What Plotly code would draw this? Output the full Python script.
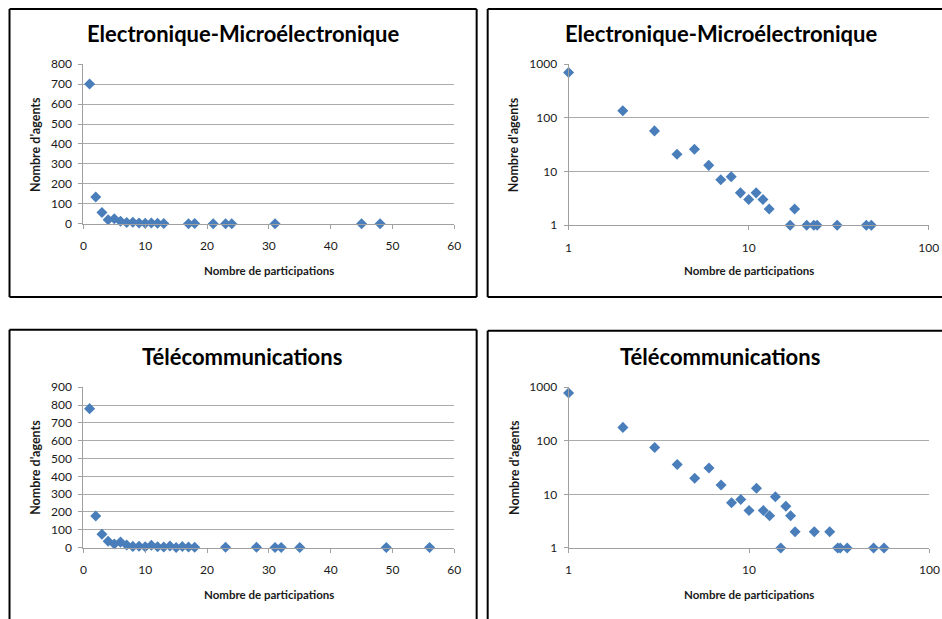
import plotly.graph_objects as go

# ---------------- data ----------------
elec_x = [1, 2, 3, 4, 5, 6, 7, 8, 9, 10, 11, 12, 13, 17, 18, 21, 23, 24, 31, 45, 48]
elec_y = [700, 135, 57, 21, 26, 13, 7, 8, 4, 3, 4, 3, 2, 1, 2, 1, 1, 1, 1, 1, 1]

tele_x = [1, 2, 3, 4, 5, 6, 7, 8, 9, 10, 11, 12, 13, 14, 15, 16, 17, 18, 23, 28, 31, 32, 35, 49, 56]
tele_y = [780, 178, 75, 36, 20, 31, 15, 7, 8, 5, 13, 5, 4, 9, 1, 6, 4, 2, 2, 2, 1, 1, 1, 1, 1]

title_elec = "Electronique-Microélectronique"
title_tele = "Télécommunications"
x_title = "Nombre de participations"
y_title = "Nombre d'agents"

lin_x_ticks = [0, 10, 20, 30, 40, 50, 60]
elec_lin_y_ticks = [0, 100, 200, 300, 400, 500, 600, 700, 800]
tele_lin_y_ticks = [0, 100, 200, 300, 400, 500, 600, 700, 800, 900]
log_x_ticks = [1, 10, 100]
log_y_ticks = [1, 10, 100, 1000]

# ---------------- layout helpers ----------------
# Figure size in page pixels; positions below are given in target-picture pixels
# and converted with the observed page->picture mapping.
W, H = 956, 632
AX, BX = 0.984, 2.5
AY, BY = 0.980, 6.0
def px(x):
    return max(0.0, min(1.0, ((x - BX) / AX) / W))
def py(y):
    return max(0.0, min(1.0, 1 - ((y - BY) / AY) / H))

MARK = "#4A7EBB"
GRID = "#ABABAB"
AXL = "#A0A0A0"
FONT = "Lato"
TXT = "#1a1a1a"

fig = go.Figure()

panels = [
    (elec_x, elec_y, False, (82.7, 452.7), (62.3, 222.7), elec_lin_y_ticks, title_elec, (242, 32), (268, 270), (35, 143)),
    (elec_x, elec_y, True, (566.7, 926.0), (62.3, 224.0), log_y_ticks, title_elec, (719, 32), (747, 270), (512, 143)),
    (tele_x, tele_y, False, (82.7, 452.7), (386.7, 547.7), tele_lin_y_ticks, title_tele, (241, 356), (268, 595), (35, 467)),
    (tele_x, tele_y, True, (566.7, 926.7), (386.7, 548.0), log_y_ticks, title_tele, (718, 356), (747, 595), (512, 467)),
]

annotations = []
for i, (xs, ys, islog, xp, yp, yt, title, tpos, xtpos, ytpos) in enumerate(panels):
    n = "" if i == 0 else str(i + 1)
    fig.add_trace(go.Scatter(
        x=xs, y=ys, mode="markers",
        marker=dict(symbol="diamond", size=8.5, color=MARK),
        cliponaxis=False, showlegend=False,
        xaxis="x" + n, yaxis="y" + n,
    ))
    xa = dict(
        domain=[px(xp[0]), px(xp[1])], anchor="y" + n,
        showgrid=False, zeroline=False,
        showline=True, linecolor=AXL, linewidth=1,
        ticks="outside", ticklen=4, tickcolor=AXL,
        tickfont=dict(family=FONT, size=12, color=TXT),
        ticklabelstandoff=7, fixedrange=True,
    )
    ya = dict(
        domain=[py(yp[1]), py(yp[0])], anchor="x" + n,
        showgrid=True, gridcolor=GRID, gridwidth=1,
        zeroline=False,
        showline=True, linecolor=AXL, linewidth=1,
        ticks="outside", ticklen=4, tickcolor=AXL,
        tickfont=dict(family=FONT, size=12, color=TXT),
        ticklabelstandoff=4, fixedrange=True,
    )
    if islog:
        xa.update(type="log", range=[0, 2], tickmode="array",
                  tickvals=log_x_ticks, ticktext=[str(v) for v in log_x_ticks])
        ya.update(type="log", range=[0, 3], tickmode="array",
                  tickvals=log_y_ticks, ticktext=[str(v) for v in log_y_ticks])
    else:
        xa.update(range=[lin_x_ticks[0], lin_x_ticks[-1]], tickmode="array", tickvals=lin_x_ticks)
        ya.update(range=[yt[0], yt[-1]], tickmode="array", tickvals=yt)
    fig.update_layout(**{"xaxis" + n: xa, "yaxis" + n: ya})

    annotations.append(dict(text="<b>" + title + "</b>", x=px(tpos[0]), y=py(tpos[1]),
                            xref="paper", yref="paper", showarrow=False,
                            xanchor="center", yanchor="middle",
                            font=dict(family=FONT, size=22, color="#000")))
    annotations.append(dict(text="<b>" + x_title + "</b>", x=px(xtpos[0]), y=py(xtpos[1]),
                            xref="paper", yref="paper", showarrow=False,
                            xanchor="center", yanchor="middle",
                            font=dict(family=FONT, size=11.5, color=TXT)))
    annotations.append(dict(text="<b>" + y_title + "</b>", x=px(ytpos[0]), y=py(ytpos[1]),
                            xref="paper", yref="paper", showarrow=False, textangle=-90,
                            xanchor="center", yanchor="middle",
                            font=dict(family=FONT, size=12.5, color=TXT)))

def seg(x0, y0, x1, y1):
    return dict(type="line", xref="paper", yref="paper",
                x0=px(x0), y0=py(y0), x1=px(x1), y1=py(y1),
                line=dict(color="#000", width=2))

shapes = [
    seg(9, 7, 475, 7), seg(9, 296, 475, 296), seg(9, 7, 9, 296), seg(475, 7, 475, 296),
    seg(486, 7, 960, 7), seg(486, 296, 960, 296), seg(486, 7, 486, 296),
    seg(9, 329, 475, 329), seg(9, 329, 9, 640), seg(475, 329, 475, 640),
    seg(486, 330, 960, 330), seg(486, 330, 486, 640),
]

fig.update_layout(
    width=W, height=H,
    margin=dict(l=0, r=0, t=0, b=0),
    paper_bgcolor="white", plot_bgcolor="white",
    annotations=annotations, shapes=shapes,
    showlegend=False,
)

fig.write_html(
    "out.html",
    config={"displayModeBar": False},
    post_script="document.body.style.margin='0';document.body.style.padding='0';"
                "document.body.style.overflow='hidden';"
                "document.documentElement.style.overflow='hidden';",
)
